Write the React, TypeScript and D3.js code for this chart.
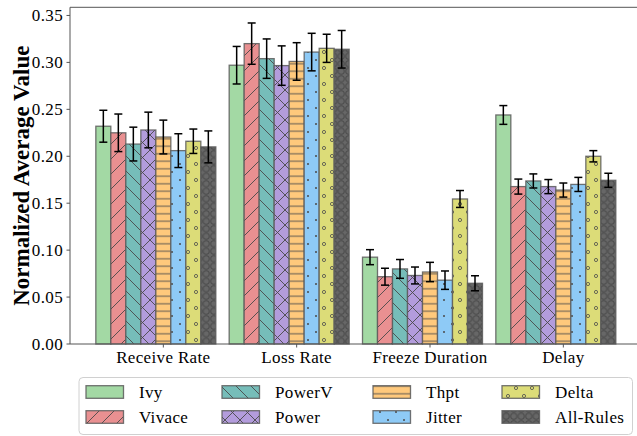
import React from "react";
import * as d3 from "d3";

const categories = ["Receive Rate", "Loss Rate", "Freeze Duration", "Delay"];
const seriesNames = ["Ivy", "Vivace", "PowerV", "Power", "Thpt", "Jitter", "Delta", "All-Rules"];
const seriesColors = ["#a3d9a4", "#e99091", "#76bdb9", "#b39cdc", "#ffc97c", "#8ecaf6", "#dcdc78", "#676767"];
const seriesHatch = ["", "/", "\\", "x", "-", ".", "o", "O"];

// values[series][category]
const Ivy = [0.232, 0.297, 0.0925, 0.244];
const Vivace = [0.225, 0.320, 0.0717, 0.1677];
const PowerV = [0.213, 0.304, 0.080, 0.1737];
const Power = [0.228, 0.2966, 0.073, 0.1677];
const Thpt = [0.2205, 0.301, 0.0767, 0.164];
const Jitter = [0.206, 0.311, 0.068, 0.170];
const Delta = [0.216, 0.315, 0.1545, 0.200];
const AllRules = [0.210, 0.314, 0.0647, 0.1744];
const values = [Ivy, Vivace, PowerV, Power, Thpt, Jitter, Delta, AllRules];

const IvyErr = [0.017, 0.020, 0.008, 0.010];
const VivaceErr = [0.020, 0.022, 0.009, 0.008];
const PowerVErr = [0.018, 0.021, 0.010, 0.0075];
const PowerErr = [0.019, 0.021, 0.009, 0.0075];
const ThptErr = [0.018, 0.020, 0.0103, 0.0075];
const JitterErr = [0.018, 0.020, 0.0098, 0.0075];
const DeltaErr = [0.013, 0.015, 0.009, 0.006];
const AllRulesErr = [0.017, 0.020, 0.008, 0.0075];
const errors = [IvyErr, VivaceErr, PowerVErr, PowerErr, ThptErr, JitterErr, DeltaErr, AllRulesErr];

const yTicks = [0, 0.05, 0.1, 0.15, 0.2, 0.25, 0.3, 0.35];

const W = 637;
const H = 436;
const TXT: React.CSSProperties = { fontFamily: '"Liberation Serif", monospace', letterSpacing: "0.35px" };
const FS = 17;
const HATCH = "#4a4a4a";
const EDGE = "#5a5a5a";

function Pattern({ id, color, hatch }: { id: string; color: string; hatch: string }) {
  const s = 15;
  const h = 7.5;
  let size = s;
  let content: React.ReactNode = null;
  if (hatch === "/") {
    content = (
      <g stroke={HATCH} strokeWidth={0.9}>
        <line x1={0} y1={s} x2={s} y2={0} />
        <line x1={-s} y1={s} x2={s} y2={-s} />
        <line x1={0} y1={2 * s} x2={2 * s} y2={0} />
      </g>
    );
  } else if (hatch === "\\") {
    content = (
      <g stroke={HATCH} strokeWidth={0.9}>
        <line x1={0} y1={0} x2={s} y2={s} />
        <line x1={-s} y1={0} x2={s} y2={2 * s} />
        <line x1={0} y1={-s} x2={2 * s} y2={s} />
      </g>
    );
  } else if (hatch === "x") {
    content = (
      <g stroke={HATCH} strokeWidth={0.9}>
        <line x1={0} y1={s} x2={s} y2={0} />
        <line x1={0} y1={0} x2={s} y2={s} />
      </g>
    );
  } else if (hatch === "-") {
    size = h;
    content = <line x1={0} y1={h / 2} x2={h} y2={h / 2} stroke={HATCH} strokeWidth={0.9} />;
  } else if (hatch === ".") {
    size = 16;
    content = (
      <g fill={HATCH}>
        <circle cx={4} cy={4} r={1} />
        <circle cx={12} cy={12} r={1} />
      </g>
    );
  } else if (hatch === "o") {
    size = 16;
    content = (
      <g fill="none" stroke={HATCH} strokeWidth={0.8}>
        <circle cx={4} cy={4} r={1.6} />
        <circle cx={12} cy={12} r={1.6} />
      </g>
    );
  } else if (hatch === "O") {
    size = h;
    content = (
      <g fill="none" stroke={HATCH} strokeWidth={1}>
        <circle cx={h / 2} cy={h / 2} r={3} />
      </g>
    );
  }
  return (
    <pattern id={id} patternUnits="userSpaceOnUse" width={size} height={size}>
      <rect width={size} height={size} fill={color} />
      {content}
    </pattern>
  );
}

export default function App() {
  const x = d3.scaleLinear().domain([-0.7, 3.59]).range([70, 642]);
  const y = d3.scaleLinear().domain([0, 0.3587]).range([344, 7.3]);
  const bw = 0.1125;
  const pxW = x(bw) - x(0);
  const left = 70;
  const top = y(0.3587);
  const bottom = y(0);

  const legendCols = [86, 222, 373, 502];
  const legendRows = [392, 417];

  return (
    <svg width={W} height={H} style={{ position: "absolute", left: 0, top: 0, background: "#fff" }}>
      <defs>
        {seriesNames.map((n, j) => (
          <Pattern key={n} id={`pat${j}`} color={seriesColors[j]} hatch={seriesHatch[j]} />
        ))}
      </defs>
      <rect width={W} height={H} fill="#fff" />

      {/* bars */}
      <g>
        {values.map((vals, j) =>
          vals.map((v, i) => {
            const cx = x(i + (j - 4) * bw);
            return (
              <rect
                key={`b${j}-${i}`}
                x={cx - pxW / 2}
                y={y(v)}
                width={pxW}
                height={y(0) - y(v)}
                fill={`url(#pat${j})`}
                stroke={EDGE}
                strokeOpacity={0.85}
                strokeWidth={1.3}
              />
            );
          })
        )}
      </g>

      {/* error bars */}
      <g stroke="#000" strokeWidth={1.5}>
        {values.map((vals, j) =>
          vals.map((v, i) => {
            const cx = x(i + (j - 4) * bw);
            const e = errors[j][i];
            return (
              <g key={`e${j}-${i}`}>
                <line x1={cx} x2={cx} y1={y(v - e)} y2={y(v + e)} />
                <line x1={cx - 4} x2={cx + 4} y1={y(v - e)} y2={y(v - e)} />
                <line x1={cx - 4} x2={cx + 4} y1={y(v + e)} y2={y(v + e)} />
              </g>
            );
          })
        )}
      </g>

      {/* axes frame */}
      <g stroke="#555" strokeWidth={1} fill="none">
        <line x1={left} x2={left} y1={top} y2={bottom} />
        <line x1={left} x2={W} y1={top} y2={top} />
        <line x1={left} x2={W} y1={bottom} y2={bottom} />
        <line x1={642} x2={642} y1={top} y2={bottom} />
      </g>

      {/* y ticks */}
      <g>
        {yTicks.map((t) => (
          <g key={t}>
            <line x1={left - 3.5} x2={left} y1={y(t)} y2={y(t)} stroke="#555" strokeWidth={1} />
            <text x={left - 7} y={y(t)} dy="0.33em" textAnchor="end" fontSize={FS} fill="#000" style={TXT}>
              {d3.format(".2f")(t)}
            </text>
          </g>
        ))}
      </g>

      {/* x ticks */}
      <g>
        {categories.map((c, i) => (
          <g key={c}>
            <line x1={x(i)} x2={x(i)} y1={bottom} y2={bottom + 3.5} stroke="#555" strokeWidth={1} />
            <text x={x(i)} y={bottom + 18.5} textAnchor="middle" fontSize={FS} fill="#000" style={TXT}>
              {c}
            </text>
          </g>
        ))}
      </g>

      {/* y label */}
      <text
        transform={`translate(29, ${(top + bottom) / 2}) rotate(-90)`}
        textAnchor="middle"
        fontSize={23}
        fontWeight="bold"
        fill="#000"
        style={{ fontFamily: '"Liberation Serif", monospace' }}
      >
        Normalized Average Value
      </text>

      {/* legend */}
      <rect x={79} y={377.5} width={553.5} height={57} rx={4} fill="#fff" stroke="#d0d0d0" strokeWidth={1} />
      {seriesNames.map((n, j) => {
        const col = Math.floor(j / 2);
        const row = j % 2;
        const lx = legendCols[col];
        const ly = legendRows[row];
        return (
          <g key={`l${n}`}>
            <rect
              x={lx}
              y={ly - 6.3}
              width={37.5}
              height={12.6}
              fill={`url(#pat${j})`}
              stroke={EDGE}
              strokeOpacity={0.85}
              strokeWidth={1.3}
            />
            <text x={lx + 53} y={ly} dy="0.35em" fontSize={FS} fill="#000" style={TXT}>
              {n}
            </text>
          </g>
        );
      })}
    </svg>
  );
}
